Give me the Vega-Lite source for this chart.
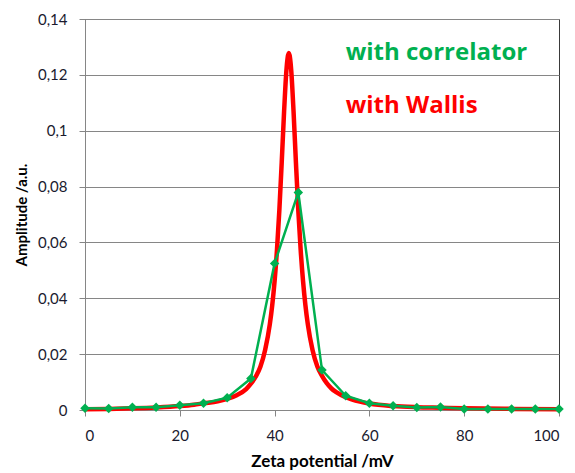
{
  "$schema": "https://vega.github.io/schema/vega-lite/v6.json",
  "width": 474,
  "height": 391,
  "autosize": {"type": "none"},
  "padding": {"left": 85, "top": 19, "right": 16, "bottom": 63},
  "background": "white",
  "config": {
    "view": {"stroke": "#3a3a3a", "strokeWidth": 1},
    "font": "Lato",
    "axis": {
      "labelFont": "Lato",
      "labelFontSize": 15,
      "labelColor": "#1a1a2e",
      "titleFont": "Lato",
      "titleFontWeight": "bold",
      "titleColor": "#000000",
      "domainColor": "#868686",
      "tickColor": "#868686",
      "gridColor": "#868686",
      "tickSize": 6
    }
  },
  "datasets": {
    "wallis": [
      {"x": 0, "y": 0.0003}, {"x": 5, "y": 0.0004}, {"x": 10, "y": 0.0006}, {"x": 15, "y": 0.0009},
      {"x": 20, "y": 0.0014}, {"x": 23, "y": 0.0019}, {"x": 25, "y": 0.0024}, {"x": 28, "y": 0.0031},
      {"x": 30, "y": 0.0040}, {"x": 32, "y": 0.0053}, {"x": 34, "y": 0.0075}, {"x": 35, "y": 0.0094},
      {"x": 36, "y": 0.0119}, {"x": 37, "y": 0.0155}, {"x": 38, "y": 0.0215}, {"x": 39, "y": 0.0308},
      {"x": 39.5, "y": 0.0375}, {"x": 40, "y": 0.0462}, {"x": 40.5, "y": 0.0573}, {"x": 41, "y": 0.0715},
      {"x": 41.5, "y": 0.0886}, {"x": 42, "y": 0.1068}, {"x": 42.5, "y": 0.1218}, {"x": 43, "y": 0.1278},
      {"x": 43.5, "y": 0.1218}, {"x": 44, "y": 0.1068}, {"x": 44.5, "y": 0.0886}, {"x": 45, "y": 0.0715},
      {"x": 45.5, "y": 0.0573}, {"x": 46, "y": 0.0462}, {"x": 46.5, "y": 0.0375}, {"x": 47, "y": 0.0308},
      {"x": 48, "y": 0.0215}, {"x": 49, "y": 0.0157}, {"x": 50, "y": 0.0122}, {"x": 51, "y": 0.0096},
      {"x": 52, "y": 0.0077}, {"x": 53, "y": 0.0064}, {"x": 55, "y": 0.0046}, {"x": 58, "y": 0.0030},
      {"x": 60, "y": 0.0023}, {"x": 65, "y": 0.0014}, {"x": 70, "y": 0.0010}, {"x": 75, "y": 0.0008},
      {"x": 80, "y": 0.0006}, {"x": 90, "y": 0.0004}, {"x": 100, "y": 0.0003}
    ],
    "correlator": [
      {"x": 0, "y": 0.0006}, {"x": 5, "y": 0.0005}, {"x": 10, "y": 0.0010}, {"x": 15, "y": 0.0010},
      {"x": 20, "y": 0.0017}, {"x": 25, "y": 0.0024}, {"x": 30, "y": 0.0044}, {"x": 35, "y": 0.0113},
      {"x": 40, "y": 0.0525}, {"x": 45, "y": 0.0779}, {"x": 50, "y": 0.0143}, {"x": 55, "y": 0.0051},
      {"x": 60, "y": 0.0024}, {"x": 65, "y": 0.0015}, {"x": 70, "y": 0.0009}, {"x": 75, "y": 0.0011},
      {"x": 80, "y": 0.0004}, {"x": 85, "y": 0.0004}, {"x": 90, "y": 0.0004}, {"x": 95, "y": 0.0004},
      {"x": 100, "y": 0.0004}
    ],
    "labels": [
      {"label": "with correlator", "x": 55, "y": 0.128},
      {"label": "with Wallis", "x": 55, "y": 0.1088}
    ]
  },
  "encoding": {
    "x": {
      "field": "x", "type": "quantitative",
      "scale": {"domain": [0, 100], "nice": false},
      "axis": {"title": "Zeta potential /mV", "titleFontSize": 17, "values": [0, 20, 40, 60, 80, 100], "grid": false, "labelPadding": 12, "titlePadding": 10}
    },
    "y": {
      "field": "y", "type": "quantitative",
      "scale": {"domain": [0, 0.14], "nice": false},
      "axis": {
        "title": "Amplitude /a.u.",
        "titleFontSize": 15,
        "values": [0, 0.02, 0.04, 0.06, 0.08, 0.1, 0.12, 0.14],
        "labelExpr": "replace(toString(datum.value), '.', ',')",
        "grid": true,
        "labelPadding": 12,
        "titlePadding": 8
      }
    }
  },
  "layer": [
    {
      "data": {"name": "wallis"},
      "mark": {"type": "line", "color": "#ff0000", "strokeWidth": 4.5, "interpolate": "monotone"}
    },
    {
      "data": {"name": "correlator"},
      "mark": {"type": "line", "color": "#00b050", "strokeWidth": 2.5}
    },
    {
      "data": {"name": "correlator"},
      "mark": {"type": "point", "shape": "diamond", "filled": true, "opacity": 1, "color": "#00b050", "size": 90}
    },
    {
      "data": {"name": "labels"},
      "mark": {"type": "text", "align": "left", "baseline": "middle", "font": "Open Sans", "fontSize": 24, "fontWeight": "bold"},
      "encoding": {
        "text": {"field": "label"},
        "color": {"field": "label", "type": "nominal", "scale": {"domain": ["with correlator", "with Wallis"], "range": ["#00b050", "#ff0000"]}, "legend": null}
      }
    }
  ]
}
